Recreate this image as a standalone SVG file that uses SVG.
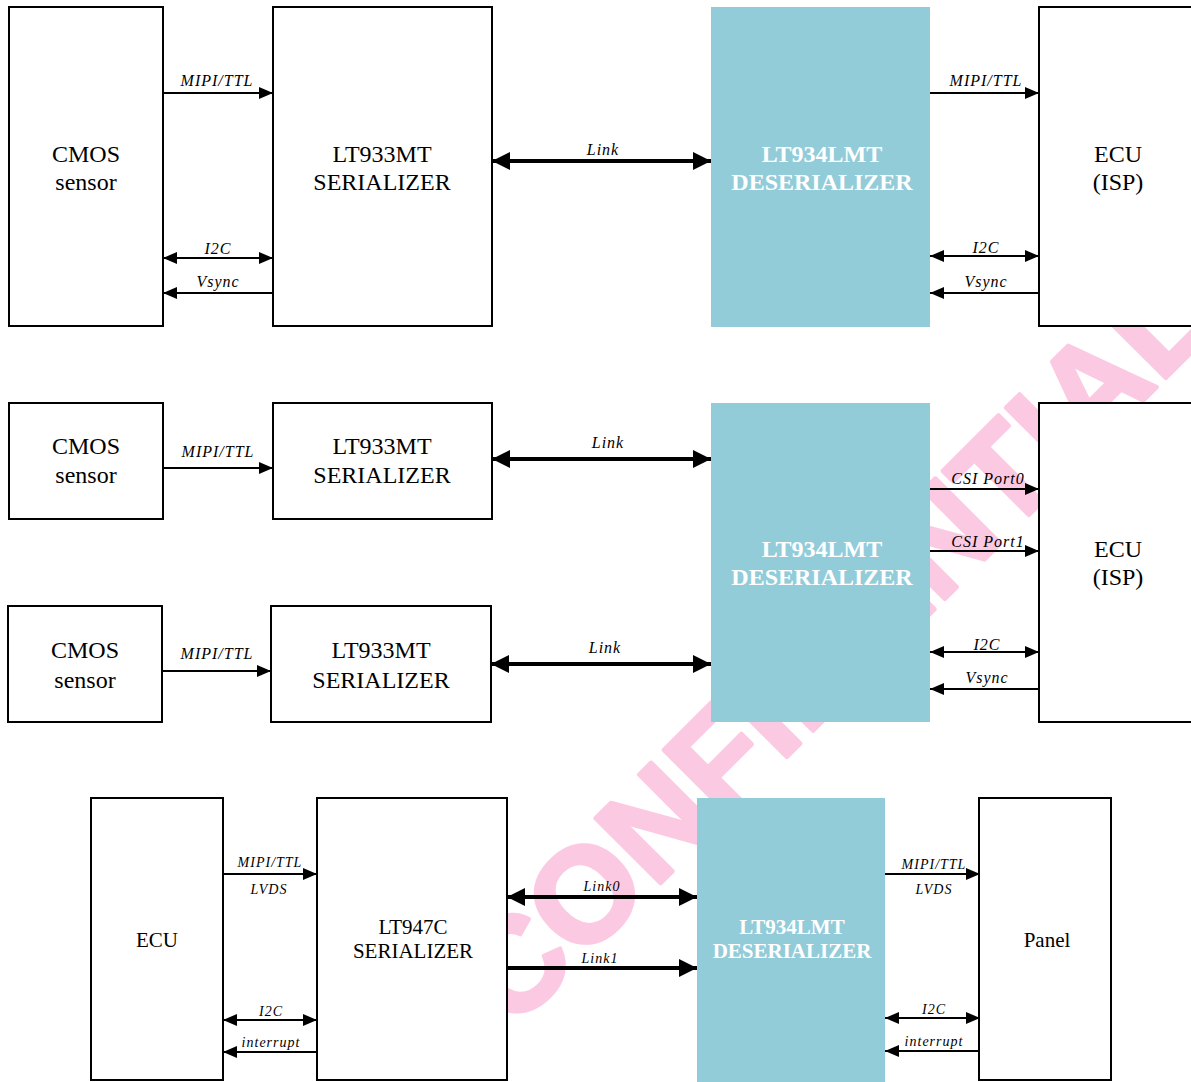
<svg xmlns="http://www.w3.org/2000/svg" width="1191" height="1082" viewBox="0 0 1191 1082">
<style>
.box{fill:#fff;stroke:#000;stroke-width:2}
.des{fill:#93ccd9}
.t{font-family:"Liberation Serif",serif;font-size:24px;fill:#000;text-anchor:middle}
.tw{font-family:"Liberation Serif",serif;font-size:24px;font-weight:bold;fill:#fff;text-anchor:middle}
.t3{font-size:21px}
.lb{font-family:"Liberation Serif",serif;font-style:italic;font-size:16px;letter-spacing:1px;fill:#000;text-anchor:middle}
.lb3{font-size:14px}
.ln{stroke:#000;stroke-width:2;fill:none}
.lk{stroke:#000;stroke-width:4;fill:none}
.wm{font-family:"Liberation Sans",sans-serif;font-weight:bold;font-size:134px;fill:#fcc9e3;stroke:#fcc9e3;stroke-width:4;stroke-linejoin:round}
</style>
<defs>
<marker id="ah" markerWidth="14" markerHeight="12" refX="14" refY="6" orient="auto-start-reverse" markerUnits="userSpaceOnUse"><path d="M0,0 L14,6 L0,12 Z" fill="#000"/></marker>
<marker id="ahb" markerWidth="18" markerHeight="18" refX="18" refY="9" orient="auto-start-reverse" markerUnits="userSpaceOnUse"><path d="M0,0 L18,9 L0,18 Z" fill="#000"/></marker>
</defs>
<rect width="1191" height="1082" fill="#fff"/>
<text class="wm" transform="translate(512,1032) rotate(-45)">CONFIDENTIAL</text>

<g id="connectors">
<line class="ln" x1="163" y1="93" x2="273" y2="93" marker-end="url(#ah)"/>
<line class="ln" x1="163" y1="258" x2="273" y2="258" marker-start="url(#ah)" marker-end="url(#ah)"/>
<line class="ln" x1="273" y1="293" x2="163" y2="293" marker-end="url(#ah)"/>
<line class="lk" x1="492" y1="161" x2="711" y2="161" marker-start="url(#ahb)" marker-end="url(#ahb)"/>
<line class="ln" x1="930" y1="93" x2="1039" y2="93" marker-end="url(#ah)"/>
<line class="ln" x1="930" y1="256" x2="1039" y2="256" marker-start="url(#ah)" marker-end="url(#ah)"/>
<line class="ln" x1="1039" y1="293" x2="930" y2="293" marker-end="url(#ah)"/>
<text class="lb" x="217" y="86">MIPI/TTL</text>
<text class="lb" x="218" y="254">I2C</text>
<text class="lb" x="218" y="287">Vsync</text>
<text class="lb" x="603" y="155">Link</text>
<text class="lb" x="986" y="86">MIPI/TTL</text>
<text class="lb" x="986" y="253">I2C</text>
<text class="lb" x="986" y="287">Vsync</text>

<line class="ln" x1="163" y1="468" x2="273" y2="468" marker-end="url(#ah)"/>
<line class="lk" x1="492" y1="459" x2="711" y2="459" marker-start="url(#ahb)" marker-end="url(#ahb)"/>
<line class="ln" x1="162" y1="671" x2="271" y2="671" marker-end="url(#ah)"/>
<line class="lk" x1="491" y1="664" x2="711" y2="664" marker-start="url(#ahb)" marker-end="url(#ahb)"/>
<line class="ln" x1="930" y1="489" x2="1039" y2="489" marker-end="url(#ah)"/>
<line class="ln" x1="930" y1="551" x2="1039" y2="551" marker-end="url(#ah)"/>
<line class="ln" x1="930" y1="652" x2="1039" y2="652" marker-start="url(#ah)" marker-end="url(#ah)"/>
<line class="ln" x1="1039" y1="689" x2="930" y2="689" marker-end="url(#ah)"/>
<text class="lb" x="218" y="457">MIPI/TTL</text>
<text class="lb" x="608" y="448">Link</text>
<text class="lb" x="217" y="659">MIPI/TTL</text>
<text class="lb" x="605" y="653">Link</text>
<text class="lb" x="988" y="484">CSI Port0</text>
<text class="lb" x="988" y="547">CSI Port1</text>
<text class="lb" x="987" y="650">I2C</text>
<text class="lb" x="987" y="683">Vsync</text>

<line class="ln" x1="223" y1="874" x2="317" y2="874" marker-end="url(#ah)"/>
<line class="ln" x1="223" y1="1020" x2="317" y2="1020" marker-start="url(#ah)" marker-end="url(#ah)"/>
<line class="ln" x1="317" y1="1052" x2="223" y2="1052" marker-end="url(#ah)"/>
<line class="lk" x1="507" y1="897" x2="697" y2="897" marker-start="url(#ahb)" marker-end="url(#ahb)"/>
<line class="lk" x1="507" y1="968" x2="697" y2="968" marker-end="url(#ahb)"/>
<line class="ln" x1="885" y1="874" x2="980" y2="874" marker-end="url(#ah)"/>
<line class="ln" x1="885" y1="1018" x2="980" y2="1018" marker-start="url(#ah)" marker-end="url(#ah)"/>
<line class="ln" x1="980" y1="1051" x2="885" y2="1051" marker-end="url(#ah)"/>
<text class="lb lb3" x="270" y="867">MIPI/TTL</text>
<text class="lb lb3" x="269" y="894">LVDS</text>
<text class="lb lb3" x="271" y="1016">I2C</text>
<text class="lb lb3" x="271" y="1047">interrupt</text>
<text class="lb lb3" x="602" y="891">Link0</text>
<text class="lb lb3" x="600" y="963">Link1</text>
<text class="lb lb3" x="934" y="869">MIPI/TTL</text>
<text class="lb lb3" x="934" y="894">LVDS</text>
<text class="lb lb3" x="934" y="1014">I2C</text>
<text class="lb lb3" x="934" y="1046">interrupt</text>
</g>

<g id="cmos1"><rect class="box" x="9" y="7" width="154" height="319"/><text class="t" x="86" y="162">CMOS</text><text class="t" x="86" y="190">sensor</text></g>
<g id="ser1"><rect class="box" x="273" y="7" width="219" height="319"/><text class="t" x="382" y="162">LT933MT</text><text class="t" x="382" y="190">SERIALIZER</text></g>
<g id="des1"><rect class="des" x="711" y="7" width="219" height="320"/><text class="tw" x="822" y="162">LT934LMT</text><text class="tw" x="822" y="190">DESERIALIZER</text></g>
<g id="ecu1"><rect class="box" x="1039" y="7" width="160" height="319"/><text class="t" x="1118" y="162">ECU</text><text class="t" x="1118" y="190">(ISP)</text></g>

<g id="cmos2a"><rect class="box" x="9" y="403" width="154" height="116"/><text class="t" x="86" y="454">CMOS</text><text class="t" x="86" y="483">sensor</text></g>
<g id="ser2a"><rect class="box" x="273" y="403" width="219" height="116"/><text class="t" x="382" y="454">LT933MT</text><text class="t" x="382" y="483">SERIALIZER</text></g>
<g id="cmos2b"><rect class="box" x="8" y="606" width="154" height="116"/><text class="t" x="85" y="658">CMOS</text><text class="t" x="85" y="688">sensor</text></g>
<g id="ser2b"><rect class="box" x="271" y="606" width="220" height="116"/><text class="t" x="381" y="658">LT933MT</text><text class="t" x="381" y="688">SERIALIZER</text></g>
<g id="des2"><rect class="des" x="711" y="403" width="219" height="319"/><text class="tw" x="822" y="557">LT934LMT</text><text class="tw" x="822" y="585">DESERIALIZER</text></g>
<g id="ecu2"><rect class="box" x="1039" y="403" width="160" height="319"/><text class="t" x="1118" y="557">ECU</text><text class="t" x="1118" y="585">(ISP)</text></g>

<g id="ecu3"><rect class="box" x="91" y="798" width="132" height="282"/><text class="t t3" x="157" y="947">ECU</text></g>
<g id="ser3"><rect class="box" x="317" y="798" width="190" height="282"/><text class="t t3" x="413" y="934">LT947C</text><text class="t t3" x="413" y="958">SERIALIZER</text></g>
<g id="des3"><rect class="des" x="697" y="798" width="188" height="284"/><text class="tw t3" x="792" y="934">LT934LMT</text><text class="tw t3" x="792" y="958">DESERIALIZER</text></g>
<g id="panel"><rect class="box" x="979" y="798" width="132" height="282"/><text class="t t3" x="1047" y="947">Panel</text></g>
</svg>
